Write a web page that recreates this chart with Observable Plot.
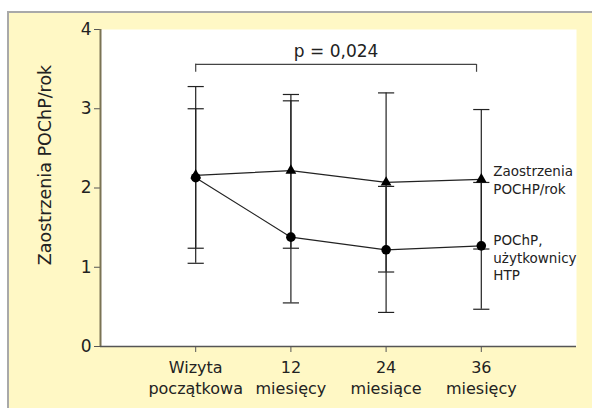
<!DOCTYPE html>
<html>
<head>
<meta charset="utf-8">
<script src="https://cdn.jsdelivr.net/npm/d3@7"></script>
<script src="https://cdn.jsdelivr.net/npm/@observablehq/plot@0.6"></script>
<style>
  html, body { margin: 0; padding: 0; background: #ffffff; width: 592px; height: 408px; overflow: hidden; }
  #bg { position: absolute; left: 7px; top: 11px; right: 0; bottom: 0; background: #fff8c5;
        border-left: 2px solid #a9a9a9; border-top: 2px solid #a9a9a9; }
  #chart { position: absolute; left: 0; top: 0; }
</style>
</head>
<body>
<div id="bg"></div>
<div id="chart"></div>
<script>
const categories = ["Wizyta\npoczątkowa", "12\nmiesięcy", "24\nmiesiące", "36\nmiesięcy"];
const exacMean = [2.16, 2.22, 2.07, 2.11];
const exacLo   = [1.05, 1.24, 0.94, 1.23];
const exacHi   = [3.28, 3.18, 3.20, 2.99];
const htpMean  = [2.13, 1.38, 1.22, 1.27];
const htpLo    = [1.24, 0.55, 0.43, 0.47];
const htpHi    = [3.00, 3.10, 2.02, 2.07];
const seriesLabels = ["Zaostrzenia\nPOCHP/rok", "POChP,\nużytkownicy\nHTP"];
const yTicks = [0, 1, 2, 3, 4];
const yLabel = "Zaostrzenia POChP/rok";
const pLabel = "p = 0,024";
const pValueLevel = 3.56;

const rows = [];
categories.forEach((c, i) => {
  rows.push({i, series: "exac", mean: exacMean[i], lo: exacLo[i], hi: exacHi[i]});
  rows.push({i, series: "htp", mean: htpMean[i], lo: htpLo[i], hi: htpHi[i]});
});
const exacRows = rows.filter(d => d.series === "exac");
const htpRows = rows.filter(d => d.series === "htp");
const last = categories.length - 1;
const capHalf = 0.085;
const font = "'DejaVu Sans', Verdana, sans-serif";

const chart = Plot.plot({
  width: 592, height: 408,
  marginLeft: 100, marginRight: 16, marginTop: 29, marginBottom: 62,
  style: {background: "transparent", fontFamily: font, color: "#222", overflow: "visible"},
  x: {domain: [-1, 4], axis: null},
  y: {domain: [0, 4], axis: null},
  marks: [
    Plot.frame({fill: "white", stroke: null}),
    Plot.axisY({ticks: yTicks, tickFormat: d => String(d), tickSize: 6, tickPadding: 3, fontSize: 17, label: null, stroke: "#555"}),
    Plot.axisX({ticks: d3.range(categories.length), tickFormat: i => categories[i], tickSize: 6, tickPadding: 5,
                fontSize: 16, lineHeight: 1.33, label: null, stroke: "#555"}),
    Plot.ruleX([-1], {stroke: "#7a7354", strokeWidth: 2}),
    Plot.ruleY([0], {stroke: "#555", strokeWidth: 1.5}),
    Plot.text([yLabel], {text: d => d, frameAnchor: "left", textAnchor: "middle", dx: -55, dy: -23, rotate: -90,
              fontSize: 17.5, fill: "#222"}),
    // error bars
    Plot.ruleX(rows, {x: "i", y1: "lo", y2: "hi", stroke: "#222", strokeWidth: 1.2}),
    Plot.link(rows, {x1: d => d.i - capHalf, x2: d => d.i + capHalf, y1: "lo", y2: "lo", stroke: "#222", strokeWidth: 1.2}),
    Plot.link(rows, {x1: d => d.i - capHalf, x2: d => d.i + capHalf, y1: "hi", y2: "hi", stroke: "#222", strokeWidth: 1.2}),
    // lines
    Plot.line(exacRows, {x: "i", y: "mean", stroke: "#222", strokeWidth: 1.2}),
    Plot.line(htpRows, {x: "i", y: "mean", stroke: "#222", strokeWidth: 1.2}),
    Plot.dot(htpRows, {x: "i", y: "mean", r: 4.8, fill: "#000", stroke: null}),
    Plot.dot(exacRows, {x: "i", y: "mean", r: 4, symbol: "triangle", fill: "#000", stroke: null}),
    // series labels
    Plot.text([exacRows[last]], {x: "i", y: "mean", text: () => seriesLabels[0], textAnchor: "start", dx: 12,
              lineAnchor: "middle", fontSize: 13.5, lineHeight: 1.3, fill: "#222"}),
    Plot.text([htpRows[last]], {x: "i", y: "mean", text: () => seriesLabels[1], textAnchor: "start", dx: 12, dy: -13,
              lineAnchor: "top", fontSize: 13.5, lineHeight: 1.3, fill: "#222"}),
    // significance bracket
    Plot.ruleY([pValueLevel], {x1: 0, x2: last - 0.05, stroke: "#444", strokeWidth: 1.2}),
    Plot.ruleX([0, last - 0.05], {y1: pValueLevel - 0.1, y2: pValueLevel, stroke: "#444", strokeWidth: 1.2}),
    Plot.text([pLabel], {text: d => d, x: (last - 0.05) / 2, y: pValueLevel, dy: -13, lineAnchor: "middle",
              fontSize: 17, fill: "#222"})
  ]
});
document.getElementById("chart").appendChild(chart);
</script>
</body>
</html>
